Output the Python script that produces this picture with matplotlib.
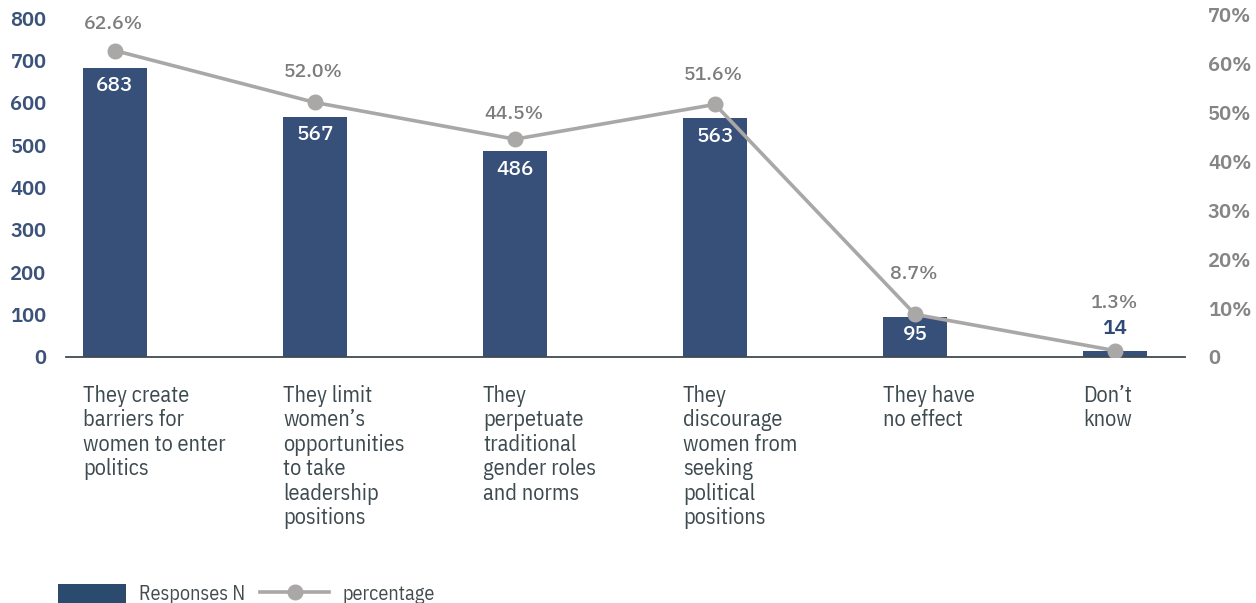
import matplotlib
matplotlib.use("Agg")
import matplotlib.pyplot as plt
from matplotlib.lines import Line2D
from matplotlib.patches import Patch

# survey data
categories = [
    "They create\nbarriers for\nwomen to enter\npolitics",
    "They limit\nwomen\u2019s\nopportunities\nto take\nleadership\npositions",
    "They\nperpetuate\ntraditional\ngender roles\nand norms",
    "They\ndiscourage\nwomen from\nseeking\npolitical\npositions",
    "They have\nno effect",
    "Don\u2019t\nknow",
]
responses = [683, 567, 486, 563, 95, 14]
percentage = [62.6, 52.0, 44.5, 51.6, 8.7, 1.3]

left_ticks = [0, 100, 200, 300, 400, 500, 600, 700, 800]
right_ticks = [0, 10, 20, 30, 40, 50, 60, 70]
right_ticklabels = ["0", "10%", "20%", "30%", "40%", "50%", "60%", "70%"]

BAR = "#375079"
NAVY = "#2f4a74"
LINE = "#aaa7a7"
GREY_TXT = "#7c7c7c"
LABEL_TXT = "#3d4a4f"

PLEX = "IBM Plex Sans KR"
COND = "IBM Plex Sans Condensed"

fig = plt.figure(figsize=(12.56, 6.03), dpi=100)
ax = fig.add_axes([0.0525, 0.408, 0.891, 0.569])
ax2 = ax.twinx()

x = list(range(len(categories)))
width = 0.32
ax.bar(x, responses, width=width, color=BAR, zorder=2)
ax.set_xlim(-0.245, 5.35)
ax.set_ylim(0, 810)
ax2.set_ylim(0, 70.1)

ax2.plot(x, percentage, color=LINE, lw=2.6, marker="o", ms=10.5, zorder=3)

# bar value labels: inside in white, above the bar when it is too short
for xi, v in zip(x, responses):
    if v > 60:
        ax.annotate(f"{v}", (xi, v), xytext=(0, -13), textcoords="offset points",
                    ha="center", va="center", color="white", fontsize=15,
                    family=PLEX, fontweight=500, zorder=4)
    else:
        ax.annotate(f"{v}", (xi, v), xytext=(0, 16), textcoords="offset points",
                    ha="center", va="center", color=NAVY, fontsize=15,
                    family=PLEX, fontweight=600, zorder=4)

pct_dy = [19, 22, 18, 21, 29, 34]
for xi, p, dy in zip(x, percentage, pct_dy):
    ax2.annotate(f"{p:.1f}%", (xi, p), xytext=(-1, dy), textcoords="offset points",
                 ha="center", va="center", color=GREY_TXT, fontsize=14,
                 family=PLEX, fontweight=500)

for xi, lab in zip(x, categories):
    ax.text(xi - width / 2, -0.082, lab, transform=ax.get_xaxis_transform(),
            ha="left", va="top", fontsize=16, color=LABEL_TXT, family=COND,
            linespacing=1.14)

ax.set_xticks([])
ax.set_yticks(left_ticks)
ax.set_yticklabels([str(t) for t in left_ticks])
ax2.set_yticks(right_ticks)
ax2.set_yticklabels(right_ticklabels)
ax.tick_params(axis="y", length=0, pad=14, labelcolor="#3b5279", labelsize=14.5)
ax2.tick_params(axis="y", length=0, pad=16.5, labelcolor="#858585", labelsize=14.5)
for t in ax.get_yticklabels() + ax2.get_yticklabels():
    t.set_family(PLEX)
    t.set_fontweight(600)

for a in (ax, ax2):
    for side in ("top", "left", "right", "bottom"):
        a.spines[side].set_visible(False)
ax.spines["bottom"].set_visible(True)
ax.spines["bottom"].set_color("#404b50")
ax.spines["bottom"].set_linewidth(1.3)
ax.set_zorder(ax2.get_zorder() - 1)
ax2.patch.set_visible(False)

handles = [
    Patch(facecolor="#2a4a6e", edgecolor="none", label="Responses N"),
    Line2D([], [], color=LINE, lw=2.6, marker="o", ms=10.5, label="percentage"),
]
fig.legend(handles=handles, loc="center left", bbox_to_anchor=(0.0395, 0.015),
           ncol=2, frameon=False, handlelength=3.4, handleheight=1.1,
           handletextpad=0.65, columnspacing=0.75, borderaxespad=0,
           prop={"family": COND, "size": 14.5}, labelcolor="#444c50")

fig.savefig("out.png", dpi=100)
